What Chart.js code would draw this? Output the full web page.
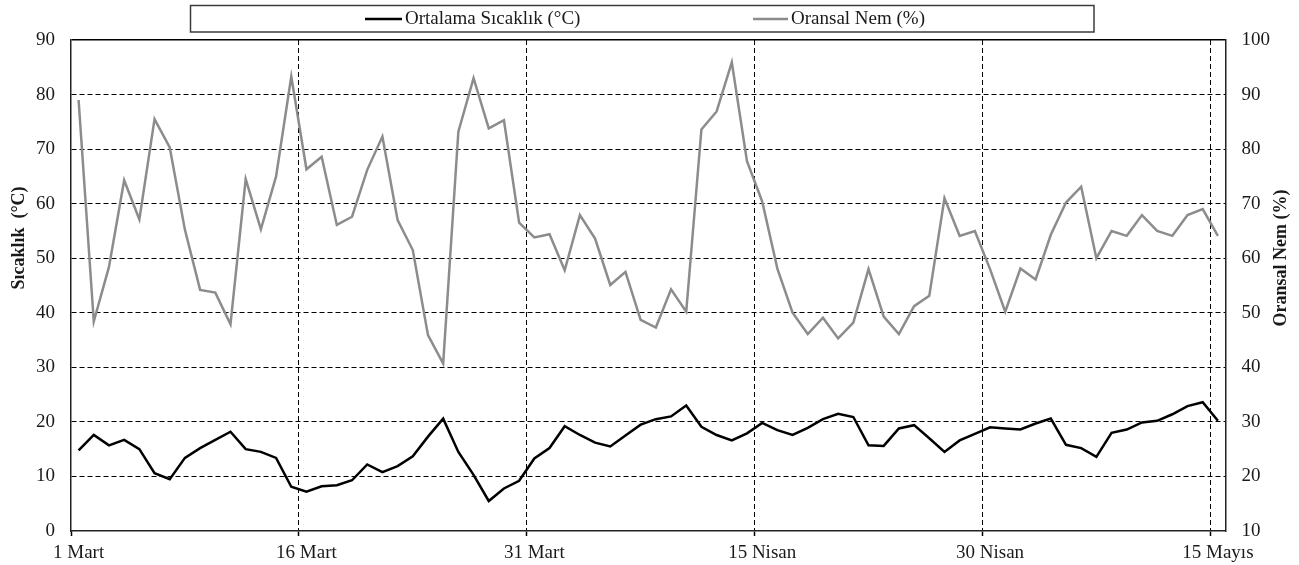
<!DOCTYPE html>
<html>
<head>
<meta charset="utf-8">
<script src="https://cdn.jsdelivr.net/npm/chart.js@4.4.1/dist/chart.umd.min.js"></script>
<style>
html,body{margin:0;padding:0;background:#fff;overflow:hidden}
canvas{display:block}
</style>
</head>
<body>
<canvas id="c" width="1299" height="565"></canvas>
<script>
const categories = [
  '1 Mart','2 Mart','3 Mart','4 Mart','5 Mart','6 Mart','7 Mart','8 Mart','9 Mart','10 Mart',
  '11 Mart','12 Mart','13 Mart','14 Mart','15 Mart','16 Mart','17 Mart','18 Mart','19 Mart','20 Mart',
  '21 Mart','22 Mart','23 Mart','24 Mart','25 Mart','26 Mart','27 Mart','28 Mart','29 Mart','30 Mart',
  '31 Mart','1 Nisan','2 Nisan','3 Nisan','4 Nisan','5 Nisan','6 Nisan','7 Nisan','8 Nisan','9 Nisan',
  '10 Nisan','11 Nisan','12 Nisan','13 Nisan','14 Nisan','15 Nisan','16 Nisan','17 Nisan','18 Nisan','19 Nisan',
  '20 Nisan','21 Nisan','22 Nisan','23 Nisan','24 Nisan','25 Nisan','26 Nisan','27 Nisan','28 Nisan','29 Nisan',
  '30 Nisan','1 Mayıs','2 Mayıs','3 Mayıs','4 Mayıs','5 Mayıs','6 Mayıs','7 Mayıs','8 Mayıs','9 Mayıs',
  '10 Mayıs','11 Mayıs','12 Mayıs','13 Mayıs','14 Mayıs','15 Mayıs'
];
const tickLabels = ['1 Mart','16 Mart','31 Mart','15 Nisan','30 Nisan','15 Mayıs'];

const temperature = [
  14.8,17.6,15.7,16.7,15.0,10.6,9.5,13.4,15.2,16.7,
  18.2,15.0,14.5,13.4,8.1,7.2,8.2,8.4,9.3,12.2,
  10.8,11.9,13.7,17.3,20.6,14.5,10.3,5.5,7.8,9.2,
  13.3,15.2,19.2,17.6,16.2,15.5,17.5,19.5,20.5,21.0,
  23.0,19.1,17.6,16.6,17.9,19.8,18.5,17.6,18.9,20.5,
  21.5,20.9,15.7,15.6,18.8,19.4,17.0,14.5,16.6,17.8,
  19.0,18.8,18.6,19.7,20.6,15.8,15.2,13.6,18.0,18.6,
  19.9,20.2,21.4,22.9,23.6,20.2
];
const humidity = [
  89.0,48.4,58.4,74.3,67.1,85.5,80.3,65.2,54.2,53.7,
  47.9,74.5,65.3,75.0,93.3,76.3,78.6,66.1,67.6,76.2,
  82.3,67.0,61.5,45.9,40.7,83.2,93.0,83.8,85.3,66.5,
  63.8,64.4,57.8,67.9,63.6,55.1,57.5,48.7,47.3,54.3,
  50.2,83.6,86.9,95.9,77.8,70.4,58.1,50.0,46.1,49.1,
  45.3,48.2,58.0,49.3,46.1,51.2,53.1,71.0,64.1,65.0,
  58.0,50.2,58.1,56.1,64.3,70.2,73.1,60.0,65.0,64.1,
  67.9,65.0,64.1,67.9,69.0,64.1
];
const seriesNames = ['Ortalama Sıcaklık (°C)', 'Oransal Nem (%)'];
const leftAxisTitle = 'Sıcaklık  (°C)';
const rightAxisTitle = 'Oransal Nem (%)';
const leftRange = [0, 90];
const rightRange = [10, 100];
const yStep = 10;

const FONT = '"Liberation Serif", "Times New Roman", serif';
const TXT = '#1a1a1a';
const DASH = [5, 3];
const isMajor = i => i >= 0 && i < categories.length && tickLabels.includes(categories[i]);

const overlay = {
  id: 'overlay',
  afterDraw(chart) {
    const ctx = chart.ctx;
    ctx.save();
    // legend box
    ctx.strokeStyle = '#3c3c3c';
    ctx.lineWidth = 1.5;
    ctx.strokeRect(190.5, 5.5, 903.5, 26.5);
    const items = [
      {x0: 365, x1: 402, tx: 405},
      {x0: 753, x1: 788, tx: 791}
    ];
    ctx.font = '19px ' + FONT;
    ctx.textBaseline = 'middle';
    ctx.textAlign = 'left';
    chart.data.datasets.forEach((ds, k) => {
      const it = items[k];
      ctx.strokeStyle = ds.borderColor;
      ctx.lineWidth = ds.borderWidth;
      ctx.beginPath();
      ctx.moveTo(it.x0, 19);
      ctx.lineTo(it.x1, 19);
      ctx.stroke();
      ctx.fillStyle = TXT;
      ctx.fillText(ds.label, it.tx, 19.5);
    });
    // axis titles
    ctx.font = 'bold 18px ' + FONT;
    ctx.textAlign = 'center';
    ctx.textBaseline = 'middle';
    ctx.fillStyle = TXT;
    ctx.save();
    ctx.translate(19, 238);
    ctx.rotate(-Math.PI / 2);
    ctx.fillText(leftAxisTitle, 0, 0);
    ctx.restore();
    ctx.save();
    ctx.translate(1281, 258);
    ctx.rotate(-Math.PI / 2);
    ctx.fillText(rightAxisTitle, 0, 0);
    ctx.restore();
    ctx.restore();
  }
};

new Chart(document.getElementById('c'), {
  type: 'line',
  data: {
    labels: categories,
    datasets: [
      {
        label: seriesNames[0],
        data: temperature,
        yAxisID: 'y',
        borderColor: '#000000',
        borderWidth: 2.5,
        pointRadius: 0,
        tension: 0,
        fill: false
      },
      {
        label: seriesNames[1],
        data: humidity,
        yAxisID: 'y1',
        borderColor: '#8c8c8c',
        borderWidth: 2.5,
        pointRadius: 0,
        tension: 0,
        fill: false
      }
    ]
  },
  options: {
    responsive: false,
    animation: false,
    devicePixelRatio: 1,
    layout: {padding: {top: 40, left: 0, right: 0, bottom: 0}},
    plugins: {legend: {display: false}, tooltip: {enabled: false}},
    scales: {
      x: {
        type: 'category',
        offset: true,
        grid: {
          offset: true,
          drawOnChartArea: true,
          drawTicks: true,
          tickLength: 5,
          lineWidth: 1,
          color: c => (isMajor(c.index) && c.index > 0) ? '#000' : 'rgba(0,0,0,0)',
          tickColor: c => isMajor(c.index) ? '#000' : 'rgba(0,0,0,0)',
          tickWidth: 1.5
        },
        border: {display: true, color: '#222', width: 1.5, dash: DASH},
        ticks: {
          autoSkip: false,
          maxRotation: 0,
          minRotation: 0,
          padding: 6,
          color: TXT,
          font: {family: FONT, size: 19},
          callback: function(v, i) { return isMajor(i) ? categories[i] : ''; }
        },
        afterFit: s => { s.height = 34; }
      },
      y: {
        position: 'left',
        min: leftRange[0],
        max: leftRange[1],
        grid: {
          drawTicks: false,
          color: c => (c.tick && c.tick.value > 0) ? '#000' : 'rgba(0,0,0,0)',
          lineWidth: c => (c.tick && c.tick.value === leftRange[1]) ? 1.5 : 1
        },
        border: {
          display: true, color: '#222', width: 1.5,
          dash: c => (c.tick && c.tick.value === leftRange[1]) ? [] : DASH
        },
        ticks: {
          stepSize: yStep,
          padding: 16,
          color: TXT,
          font: {family: FONT, size: 19}
        },
        afterFit: s => { s.width = 71; }
      },
      y1: {
        position: 'right',
        min: rightRange[0],
        max: rightRange[1],
        grid: {drawOnChartArea: false, drawTicks: false},
        border: {display: true, color: '#222', width: 1.5},
        ticks: {
          stepSize: yStep,
          padding: 16,
          color: TXT,
          font: {family: FONT, size: 19}
        },
        afterFit: s => { s.width = 73.5; }
      }
    }
  },
  plugins: [overlay]
});
</script>
</body>
</html>
